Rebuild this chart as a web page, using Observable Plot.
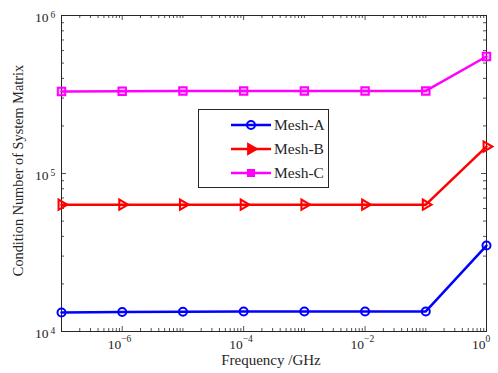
<!DOCTYPE html>
<html><head><meta charset="utf-8">
<script src="https://cdn.jsdelivr.net/npm/d3@7"></script>
<script src="https://cdn.jsdelivr.net/npm/@observablehq/plot@0.6"></script>
<style>
body{margin:0;background:#fff}
#wrap{position:relative;width:498px;height:373px;font-family:"Liberation Serif",serif}
#legend{position:absolute;left:198px;top:109px;width:129px;height:77px;border:1px solid #262626;background:#fff}
#legend .row{position:absolute;left:0;height:20px;width:129px}
#legend svg{position:absolute;left:30px;top:0}
#legend span{position:absolute;left:75px;top:1px;font-size:15.5px;color:#262626;line-height:18px}
</style></head><body><div id="wrap"><div id="chart"></div><div id="legend"></div></div>
<script>
// ---- data ----
const freq = [1e-7, 1e-6, 1e-5, 1e-4, 1e-3, 1e-2, 1e-1, 1];
const meshA = [13200, 13300, 13350, 13400, 13400, 13400, 13400, 35000];
const meshB = [63500, 63500, 63500, 63500, 63500, 63500, 63500, 148000];
const meshC = [330000, 332000, 333000, 333000, 333000, 333000, 333000, 550000];
const seriesNames = ["Mesh-A", "Mesh-B", "Mesh-C"];
const seriesColors = ["#0000ff", "#ff0000", "#ff00ff"];
const xTickValues = [1e-6, 1e-4, 1e-2, 1];
const xTickExp = ["\u22126", "\u22124", "\u22122", "0"];
const yTickValues = [1e4, 1e5, 1e6];
const yTickExp = ["4", "5", "6"];
const xLabel = "Frequency /GHz";
const yLabel = "Condition Number of System Matrix";

// ---- build ----
const W = 498, H = 373, mL = 61, mR = 12, mT = 15, mB = 42;
const ph = H - mT - mB, pw = W - mL - mR;
const rows = [];
[meshA, meshB, meshC].forEach((vals, i) =>
  vals.forEach((v, j) => rows.push({f: freq[j], v, s: seriesNames[i]})));

const xMinor = [];
for (let k = -7; k <= -1; k++) for (let m = 2; m <= 10; m++) {
  const v = m * Math.pow(10, k);
  if (m === 10 && (k + 1) % 2 === 0) continue;
  if (m === 10 && k + 1 === 0) continue;
  xMinor.push(v);
}
const yMinor = [];
for (let k = 4; k <= 5; k++) for (let m = 2; m <= 9; m++) yMinor.push(m * Math.pow(10, k));

const ink = "#262626";
const font = "Liberation Serif";
const symbolOf = {"Mesh-A": "circle", "Mesh-B": "triangle", "Mesh-C": "square"};

const marks = [
  // ticks (inward, all four sides)
  Plot.tickX(xTickValues, {x: d => d, insetTop: ph - 5, stroke: ink, strokeWidth: 0.8}),
  Plot.tickX(xTickValues, {x: d => d, insetBottom: ph - 5, stroke: ink, strokeWidth: 0.8}),
  Plot.tickX(xMinor, {x: d => d, insetTop: ph - 3, stroke: ink, strokeWidth: 0.8}),
  Plot.tickX(xMinor, {x: d => d, insetBottom: ph - 3, stroke: ink, strokeWidth: 0.8}),
  Plot.tickY(yTickValues, {y: d => d, insetRight: pw - 5, stroke: ink, strokeWidth: 0.8}),
  Plot.tickY(yTickValues, {y: d => d, insetLeft: pw - 5, stroke: ink, strokeWidth: 0.8}),
  Plot.tickY(yMinor, {y: d => d, insetRight: pw - 3, stroke: ink, strokeWidth: 0.8}),
  Plot.tickY(yMinor, {y: d => d, insetLeft: pw - 3, stroke: ink, strokeWidth: 0.8}),
  Plot.frame({stroke: ink, strokeWidth: 1}),
  // series
  Plot.line(rows, {x: "f", y: "v", z: "s", stroke: "s", strokeWidth: 2.5}),
  Plot.dot(rows.filter(d => d.s === "Mesh-A"), {x: "f", y: "v", stroke: "s", symbol: "circle", r: 4, strokeWidth: 2, fill: "white", fillOpacity: 0}),
  Plot.dot(rows.filter(d => d.s === "Mesh-B"), {x: "f", y: "v", stroke: "s", fill: "s", fillOpacity: 0.15, symbol: "triangle", r: 3.8, strokeWidth: 2, rotate: 90}),
  Plot.dot(rows.filter(d => d.s === "Mesh-C"), {x: "f", y: "v", stroke: "s", fill: "s", fillOpacity: 0.25, symbol: "square", r: 4.2, strokeWidth: 2}),
  // x tick labels
  Plot.text(xTickValues, {x: d => d, frameAnchor: "bottom", text: () => "10", textAnchor: "end", dx: -1, dy: 17, fontSize: 13.5, fill: ink, fontFamily: font}),
  Plot.text(xTickValues, {x: d => d, frameAnchor: "bottom", text: (d, i) => xTickExp[i], textAnchor: "start", dx: -1, dy: 10, fontSize: 9.5, fill: ink, fontFamily: font}),
  // y tick labels
  Plot.text(yTickValues, {y: d => d, frameAnchor: "left", text: () => "10", textAnchor: "end", dx: -13, dy: 2.5, fontSize: 13.5, fill: ink, fontFamily: font}),
  Plot.text(yTickValues, {y: d => d, frameAnchor: "left", text: (d, i) => yTickExp[i], textAnchor: "start", dx: -11, dy: -1, fontSize: 9.5, fill: ink, fontFamily: font}),
  // axis titles
  Plot.text([xLabel], {frameAnchor: "bottom", text: d => d, dx: -3, dy: 33, fontSize: 15, fill: ink, fontFamily: font}),
  Plot.text([yLabel], {frameAnchor: "left", textAnchor: "middle", text: d => d, rotate: -90, dx: -43, dy: -3, fontSize: 14.3, fill: ink, fontFamily: font})
];

const chart = Plot.plot({
  width: W, height: H,
  marginLeft: mL, marginRight: mR, marginTop: mT, marginBottom: mB,
  style: {background: "white", fontFamily: font},
  x: {type: "log", domain: [1e-7, 1], axis: null},
  y: {type: "log", domain: [1e4, 1e6], axis: null},
  color: {domain: seriesNames, range: seriesColors},
  marks
});
document.getElementById("chart").appendChild(chart);

// legend
const legend = document.getElementById("legend");
const ns = "http://www.w3.org/2000/svg";
seriesNames.forEach((name, i) => {
  const row = document.createElement("div");
  row.className = "row";
  row.style.top = (5 + i * 24) + "px";
  const svg = document.createElementNS(ns, "svg");
  svg.setAttribute("width", 44); svg.setAttribute("height", 20);
  const line = document.createElementNS(ns, "line");
  line.setAttribute("x1", 2); line.setAttribute("x2", 42);
  line.setAttribute("y1", 10); line.setAttribute("y2", 10);
  line.setAttribute("stroke", seriesColors[i]); line.setAttribute("stroke-width", 2.5);
  svg.appendChild(line);
  const p = document.createElementNS(ns, "path");
  const sym = {circle: d3.symbolCircle, triangle: d3.symbolTriangle, square: d3.symbolSquare}[symbolOf[name]];
  const size = {circle: Math.PI * 16, triangle: Math.PI * 14, square: Math.PI * 12}[symbolOf[name]];
  p.setAttribute("d", d3.symbol(sym, size)());
  p.setAttribute("transform", `translate(22,10) rotate(${name === "Mesh-B" ? 90 : 0})`);
  p.setAttribute("stroke", seriesColors[i]); p.setAttribute("stroke-width", 2);
  p.setAttribute("fill", name === "Mesh-A" ? "none" : seriesColors[i]);
  svg.appendChild(p);
  row.appendChild(svg);
  const sp = document.createElement("span");
  sp.textContent = name;
  row.appendChild(sp);
  legend.appendChild(row);
});
</script></body></html>
